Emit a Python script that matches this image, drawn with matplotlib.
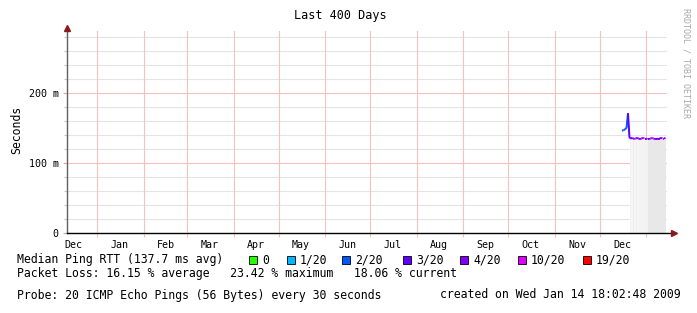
import matplotlib
matplotlib.use("Agg")
import matplotlib.pyplot as plt
import matplotlib.dates as mdates
from matplotlib.patches import Rectangle
import pandas as pd
import numpy as np

plt.rcParams['font.family'] = ['DejaVu Sans Mono']

# ---- data ----
x_start = "2007-12-12"
x_end = "2009-01-15"

days = pd.date_range("2008-12-16", "2009-01-14", freq="D")
median_ms = [146, 147, 148, 150, 171, 136,
             135, 136, 134, 135, 136, 135, 134, 135, 136, 135,
             135, 134, 134, 135, 136, 135, 134, 134, 135, 135,
             136, 135, 135, 136]
# index into loss legend for each day
loss_idx = [2, 2, 2, 2, 2, 3,
            4, 3, 4, 5, 4, 4, 3, 4, 4, 5,
            4, 4, 3, 4, 4, 5, 4, 4, 3, 4,
            4, 4, 5, 4]
# smoke shade for each day (None = no smoke)
smoke = [None, None, None, None, None, "#f2f2f2",
         "#f6f6f6", "#eeeeee", "#f6f6f6", "#f0f0f0", "#f6f6f6", "#f2f2f2", "#f4f4f4", "#f2f2f2", "#f4f4f4", "#f2f2f2",
         "#f2f2f2", "#e8e8e8", "#e8e8e8", "#e8e8e8", "#e8e8e8", "#e8e8e8", "#e8e8e8", "#e8e8e8", "#e8e8e8", "#e8e8e8",
         "#e8e8e8", "#e8e8e8", "#e8e8e8", "#e8e8e8"]

loss_labels = ["0", "1/20", "2/20", "3/20", "4/20", "10/20", "19/20"]
loss_colors = ["#26ff00", "#00b8ff", "#0059ff", "#5e00ff", "#7e00ff", "#dd00ff", "#ff0000"]

month_labels = ["Dec", "Jan", "Feb", "Mar", "Apr", "May", "Jun", "Jul", "Aug", "Sep", "Oct", "Nov", "Dec"]

title = "Last 400 Days"
avg_text = "Median Ping RTT (137.7 ms avg)"
loss_text = "Packet Loss: 16.15 % average   23.42 % maximum   18.06 % current"
probe_text = "Probe: 20 ICMP Echo Pings (56 Bytes) every 30 seconds"
created_text = "created on Wed Jan 14 18:02:48 2009"

W, H = 697, 313
fig = plt.figure(figsize=(W / 100, H / 100), dpi=100)
fig.patch.set_facecolor("white")


def fx(px):
    return px / W


def fy(py):
    return 1 - py / H


ax = fig.add_axes([fx(67), fy(233), fx(667) - fx(67), fy(31) - fy(233)])
ax.set_facecolor("white")
ymax = 202 / 0.7
ax.set_ylim(0, ymax)
ax.set_xlim(pd.Timestamp(x_start), pd.Timestamp(x_end))

# grid
for v in range(20, int(ymax), 20):
    col = "#f4c0c0" if v % 100 == 0 else "#e4e4e4"
    ax.axhline(v, color=col, lw=0.8, zorder=0)
months = pd.date_range("2008-01-01", "2009-01-01", freq="MS")
for m in months:
    ax.axvline(m, color="#f4c0c0", lw=0.8, zorder=0)

# smoke
for i in range(len(days) - 1):
    if smoke[i] is not None:
        ax.fill_between([days[i], days[i + 1]], 0, min(median_ms[i], median_ms[i + 1]) - 1,
                        color=smoke[i], lw=0, zorder=1)

# median line coloured by loss
for i in range(len(days) - 1):
    ax.plot([days[i], days[i + 1]], [median_ms[i], median_ms[i + 1]],
            color=loss_colors[loss_idx[i + 1]], lw=1.4, zorder=3, solid_capstyle="butt")
# dark outline for the vertical drop
ax.plot([days[3], days[4], days[4], days[5]], [median_ms[3], median_ms[4], median_ms[4], median_ms[5]],
        color="#202020", lw=0.6, zorder=2)

# axes styling
for s in ax.spines.values():
    s.set_visible(False)
ax.plot([0, 0], [0, 1.015], transform=ax.transAxes, color="#606060", lw=1, clip_on=False, zorder=4)
ax.plot([0, 1.012], [0, 0], transform=ax.transAxes, color="black", lw=1, clip_on=False, zorder=4)
ax.plot([0], [1.015], marker="^", ms=4, color="#8b1a1a", transform=ax.transAxes, clip_on=False, zorder=5)
ax.plot([1.012], [0], marker=">", ms=4, color="#8b1a1a", transform=ax.transAxes, clip_on=False, zorder=5)

ax.set_yticks([0, 100, 200])
ax.set_yticklabels(["0", "100 m", "200 m"], fontsize=7.2)
ax.set_yticks(range(20, int(ymax), 20), minor=True)
ax.tick_params(axis="y", which="major", length=3, width=0.8, color="#e0a0a0", pad=3)
ax.tick_params(axis="y", which="minor", length=2, width=0.8, color="#c8c8c8")

ax.set_xticks(months)
ax.set_xticklabels([])
ax.tick_params(axis="x", which="major", length=3, width=0.8, color="#f4c0c0")
mid = [d + pd.Timedelta(days=15) for d in pd.date_range("2007-12-01", "2008-12-01", freq="MS")]
ax.set_xticks(mid, minor=True)
ax.set_xticklabels(month_labels, minor=True)
ax.tick_params(axis="x", which="minor", length=0, pad=5, labelsize=7.2)

ax.set_ylabel("Seconds", fontsize=8.3, labelpad=6)
ax.yaxis.set_label_coords(fx(16) - fx(67), (fy(130) - fy(233)) / (fy(31) - fy(233)))

fig.text(fx(340), fy(16), title, ha="center", va="center", fontsize=8.5)
fig.text(fx(686), fy(8), "RRDTOOL / TOBI OETIKER", rotation=270, ha="center", va="top",
         fontsize=6, color="#a8a8a8")

# legend
fig.text(fx(17), fy(260), avg_text, ha="left", va="center", fontsize=8.3)
box_x = [249, 287, 342, 403, 460, 518, 583]
for bx, lab, col in zip(box_x, loss_labels, loss_colors):
    fig.patches.append(Rectangle((fx(bx), fy(264)), fx(8), 8 / H, transform=fig.transFigure,
                                 facecolor=col, edgecolor="black", lw=0.6))
    fig.text(fx(bx + 13), fy(260), lab, ha="left", va="center", fontsize=8.3)
fig.text(fx(17), fy(274), loss_text, ha="left", va="center", fontsize=8.3)
fig.text(fx(17), fy(295), probe_text, ha="left", va="center", fontsize=8.3)
fig.text(fx(681), fy(295), created_text, ha="right", va="center", fontsize=8.3)

fig.savefig("out.png", dpi=100)
